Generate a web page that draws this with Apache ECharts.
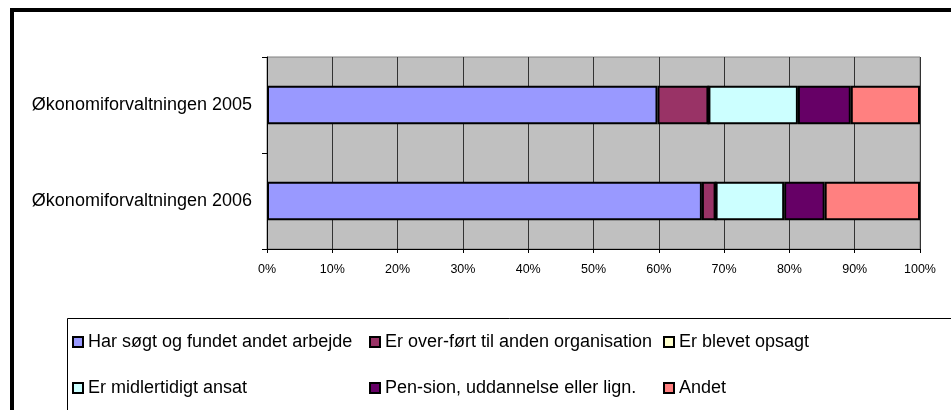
<!DOCTYPE html>
<html>
<head>
<meta charset="utf-8">
<script src="https://cdn.jsdelivr.net/npm/echarts@6/dist/echarts.min.js"></script>
<style>
  html, body { margin: 0; padding: 0; background: #fff; }
  #chart { width: 951px; height: 410px; }
</style>
</head>
<body>
<div id="chart"></div>
<script>
// kategorier (øverst først)
const categories = ['Økonomiforvaltningen 2005', 'Økonomiforvaltningen 2006']
const seriesNames = [
  'Har søgt og fundet andet arbejde',
  'Er over-ført til anden organisation',
  'Er blevet opsagt',
  'Er midlertidigt ansat',
  'Pen-sion, uddannelse eller lign.',
  'Andet'
]
// andel i procent, [2005, 2006]
const harSoegt = [59.8, 66.6]
const overfoert = [7.8, 2.1]
const opsagt = [0, 0]
const midlertidig = [13.7, 10.5]
const pension = [8.1, 6.2]
const andet = [10.6, 14.6]
const xTicks = [0, 10, 20, 30, 40, 50, 60, 70, 80, 90, 100]

const colors = ['#9999FF', '#993366', '#FFFFCC', '#CCFFFF', '#660066', '#FF8080']
const values = [harSoegt, overfoert, opsagt, midlertidig, pension, andet]
const font = "'Liberation Sans', Arial, sans-serif"

const chart = echarts.init(document.getElementById('chart'))

const legendBase = {
  orient: 'vertical',
  top: 332,
  padding: 0,
  itemWidth: 10,
  itemHeight: 10,
  itemGap: 26,
  icon: 'rect',
  selectedMode: false,
  itemStyle: { borderColor: '#000', borderWidth: 2 },
  textStyle: { fontFamily: font, fontSize: 18, color: '#000', lineHeight: 20 }
}

const option = {
  animation: false,
  backgroundColor: '#fff',
  textStyle: { fontFamily: font },
  graphic: [
    {
      type: 'rect',
      shape: { x: 12, y: 10, width: 1000, height: 500 },
      style: { fill: 'none', stroke: '#000', lineWidth: 4 }
    },
    {
      type: 'rect',
      shape: { x: 67.5, y: 318.5, width: 1000, height: 200 },
      style: { fill: 'none', stroke: '#000', lineWidth: 1 }
    }
  ],
  legend: [
    Object.assign({}, legendBase, { left: 72, data: [seriesNames[0], seriesNames[3]] }),
    Object.assign({}, legendBase, { left: 369, data: [seriesNames[1], seriesNames[4]] }),
    Object.assign({}, legendBase, { left: 663, data: [seriesNames[2], seriesNames[5]] })
  ],
  grid: {
    left: 267,
    right: 31,
    top: 57,
    bottom: 161,
    show: true,
    backgroundColor: '#C0C0C0',
    borderColor: '#808080',
    borderWidth: 1
  },
  xAxis: {
    type: 'value',
    min: xTicks[0],
    max: xTicks[xTicks.length - 1],
    interval: xTicks[1] - xTicks[0],
    axisLine: { show: true, lineStyle: { color: '#000', width: 1 } },
    axisTick: { show: true, length: 4, lineStyle: { color: '#000' } },
    axisLabel: {
      formatter: '{value}%',
      fontSize: 12.5,
      color: '#000',
      margin: 14,
      fontFamily: font
    },
    splitLine: { show: true, lineStyle: { color: '#333', width: 1 } }
  },
  yAxis: {
    type: 'category',
    inverse: true,
    data: categories,
    axisLine: { show: true, lineStyle: { color: '#000', width: 1 } },
    axisTick: { show: true, length: 5, lineStyle: { color: '#000' } },
    axisLabel: { fontSize: 18, color: '#000', margin: 15, fontFamily: font }
  },
  series: seriesNames.map((name, i) => ({
    name: name,
    type: 'bar',
    stack: 'total',
    barWidth: '40%',
    data: values[i],
    itemStyle: { color: colors[i], borderColor: '#000', borderWidth: 2 }
  }))
}

chart.setOption(option)
</script>
</body>
</html>
